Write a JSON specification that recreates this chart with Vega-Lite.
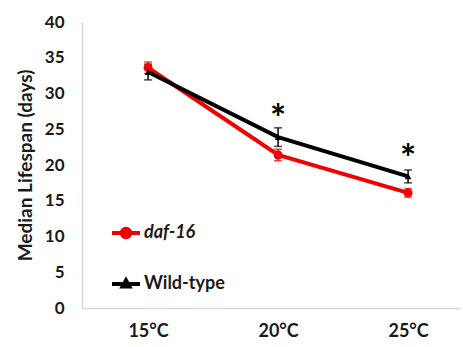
{
  "$schema": "https://vega.github.io/schema/vega-lite/v6.json",
  "width": 378,
  "height": 286,
  "autosize": "none",
  "padding": {"left": 82, "top": 22, "right": 3, "bottom": 39},
  "background": "white",
  "config": {"view": {"stroke": null}, "font": "Lato",
    "axisY": {"labelOverlap": false, "grid": false, "ticks": false, "domainColor": "#d9d9d9", "domainWidth": 1.5,
              "labelFontSize": 17, "labelFontWeight": "bold", "labelColor": "#1a1a1a", "labelPadding": 18,
              "titleFontSize": 19, "titleFontWeight": "bold", "titleColor": "#1a1a1a", "titlePadding": 9}},
  "data": {"values": [
    {"temp": "15°C", "strain": "daf-16", "median": 33.6, "lo": 32.8, "hi": 34.4, "sig": null, "sigY": null},
    {"temp": "20°C", "strain": "daf-16", "median": 21.4, "lo": 20.6, "hi": 22.2, "sig": null, "sigY": null},
    {"temp": "25°C", "strain": "daf-16", "median": 16.1, "lo": 15.5, "hi": 16.7, "sig": null, "sigY": null},
    {"temp": "15°C", "strain": "Wild-type", "median": 33.0, "lo": 31.9, "hi": 34.1, "sig": null, "sigY": null},
    {"temp": "20°C", "strain": "Wild-type", "median": 23.9, "lo": 22.6, "hi": 25.2, "sig": "*", "sigY": 24.6},
    {"temp": "25°C", "strain": "Wild-type", "median": 18.4, "lo": 17.5, "hi": 19.3, "sig": "*", "sigY": 19.0}
  ]},
  "encoding": {
    "x": {
      "field": "temp", "type": "ordinal",
      "scale": {"type": "point", "padding": 0.4538, "align": 0.56},
      "axis": {"title": null, "labelAngle": 0, "ticks": false, "domainColor": "#d9d9d9", "domainWidth": 1.5,
               "labelFontSize": 18, "labelFontWeight": "bold", "labelColor": "#1a1a1a", "labelPadding": 14}
    }
  },
  "layer": [
    {
      "mark": {"type": "line", "strokeWidth": 4},
      "encoding": {
        "y": {"field": "median", "type": "quantitative",
              "scale": {"domain": [0, 40], "nice": false},
              "axis": {"values": [0, 5, 10, 15, 20, 25, 30, 35, 40], "title": "Median Lifespan (days)"}},
        "color": {"field": "strain", "type": "nominal",
                  "scale": {"domain": ["daf-16", "Wild-type"], "range": ["#f00000", "#000000"]},
                  "legend": {
                    "title": null, "orient": "none", "legendX": 28, "legendY": 195,
                    "labelFontSize": 18, "labelFontWeight": "bold", "labelColor": "#1a1a1a",
                    "labelOffset": 2, "rowPadding": 22, "symbolSize": 784, "symbolStrokeWidth": 4,
                    "encode": {
                      "symbols": {"update": {
                        "shape": [
                          {"test": "datum.value === 'daf-16'", "value": "M-1,0L1,0M-0.3,0A0.3,0.3,0,1,0,0.3,0A0.3,0.3,0,1,0,-0.3,0Z"},
                          {"value": "M-1,0L1,0M0,-0.26L0.24,0.17L-0.24,0.17Z"}
                        ],
                        "fill": [{"test": "datum.value === 'daf-16'", "value": "#f00000"}, {"value": "#000000"}],
                        "stroke": [{"test": "datum.value === 'daf-16'", "value": "#f00000"}, {"value": "#000000"}],
                        "fillOpacity": {"value": 1},
                        "strokeWidth": {"value": 4}
                      }},
                      "labels": {"update": {
                        "fontStyle": [{"test": "datum.value === 'daf-16'", "value": "italic"}, {"value": "normal"}]
                      }}
                    }
                  }}
      }
    },
    {
      "mark": {"type": "rule", "strokeWidth": 1.5},
      "encoding": {
        "y": {"field": "lo", "type": "quantitative", "axis": {"values": [0, 5, 10, 15, 20, 25, 30, 35, 40], "title": "Median Lifespan (days)"}},
        "y2": {"field": "hi"},
        "color": {"field": "strain", "type": "nominal"}
      }
    },
    {
      "mark": {"type": "tick", "thickness": 1.5, "size": 8},
      "encoding": {
        "y": {"field": "lo", "type": "quantitative", "axis": {"values": [0, 5, 10, 15, 20, 25, 30, 35, 40], "title": "Median Lifespan (days)"}},
        "color": {"field": "strain", "type": "nominal"}
      }
    },
    {
      "mark": {"type": "tick", "thickness": 1.5, "size": 8},
      "encoding": {
        "y": {"field": "hi", "type": "quantitative", "axis": {"values": [0, 5, 10, 15, 20, 25, 30, 35, 40], "title": "Median Lifespan (days)"}},
        "color": {"field": "strain", "type": "nominal"}
      }
    },
    {
      "transform": [{"filter": "datum.strain === 'daf-16'"}],
      "mark": {"type": "circle", "opacity": 1, "size": 80},
      "encoding": {
        "y": {"field": "median", "type": "quantitative", "axis": {"values": [0, 5, 10, 15, 20, 25, 30, 35, 40], "title": "Median Lifespan (days)"}},
        "color": {"field": "strain", "type": "nominal"}
      }
    },
    {
      "transform": [{"filter": "datum.strain === 'Wild-type'"}],
      "mark": {"type": "point", "shape": "triangle-up", "filled": true, "opacity": 1, "size": 45},
      "encoding": {
        "y": {"field": "median", "type": "quantitative", "axis": {"values": [0, 5, 10, 15, 20, 25, 30, 35, 40], "title": "Median Lifespan (days)"}},
        "color": {"field": "strain", "type": "nominal"}
      }
    },
    {
      "transform": [{"filter": "datum.sig != null"}],
      "mark": {"type": "text", "fontSize": 38, "fontWeight": "bold", "baseline": "alphabetic", "align": "center", "color": "#000000"},
      "encoding": {
        "y": {"field": "sigY", "type": "quantitative", "axis": {"values": [0, 5, 10, 15, 20, 25, 30, 35, 40], "title": "Median Lifespan (days)"}},
        "text": {"field": "sig"}
      }
    }
  ]
}
